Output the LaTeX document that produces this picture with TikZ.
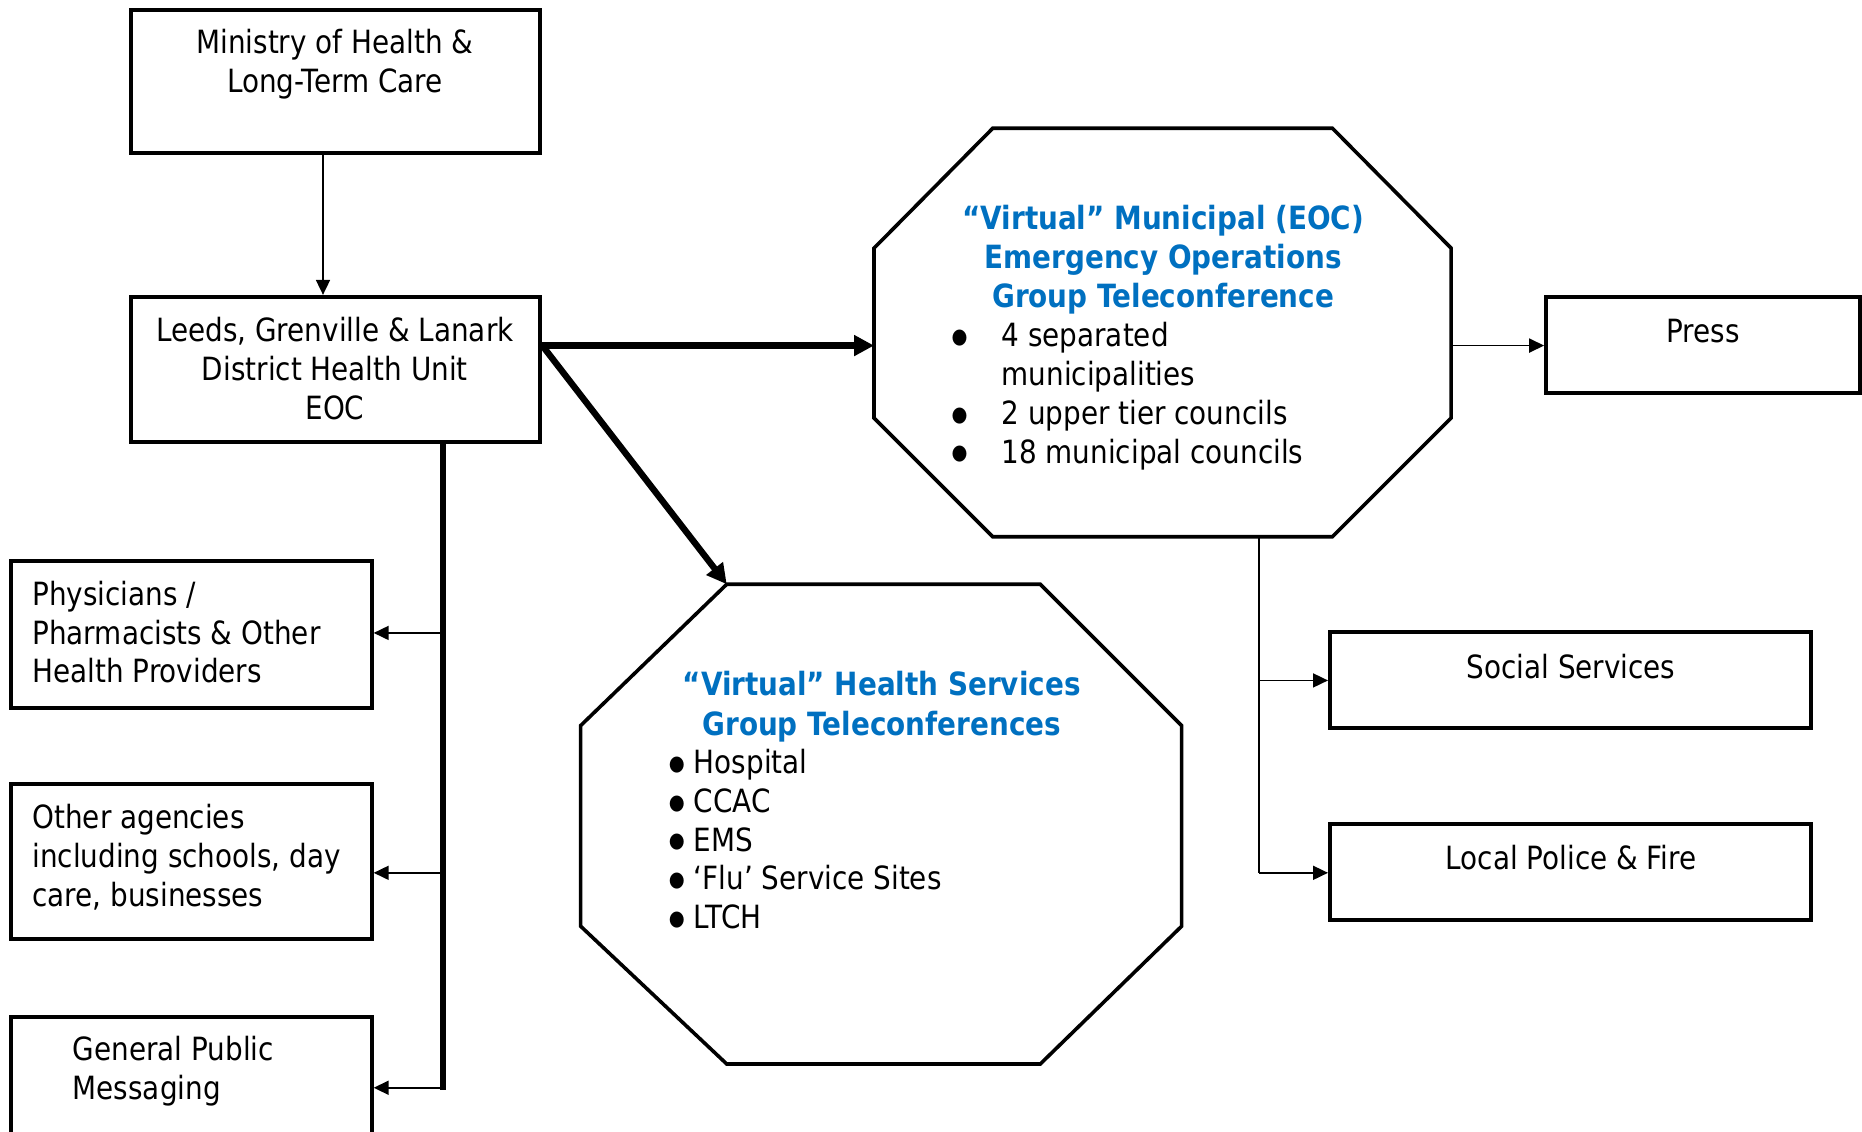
\documentclass[tikz,border=0pt]{standalone}
\usepackage{fontspec}
\setmainfont{DejaVu Sans}[FakeStretch=0.87]
\usetikzlibrary{arrows.meta,fit}
\definecolor{titleblue}{RGB}{0,112,192}
\newcommand{\bigdot}{\raisebox{1.6pt}{\fontsize{10.5}{0}\selectfont ●}}
\begin{document}
\begin{tikzpicture}[x=0.59375pt,y=-0.59375pt,
  box/.style={draw, line width=2pt, inner sep=0pt},
  oct/.style={draw, line width=1.8pt, line join=miter},
  txt/.style={font=\fontsize{16}{19.4}\selectfont, inner sep=0pt},
  ttl/.style={font=\fontsize{16}{19.6}\selectfont\bfseries, text=titleblue, inner sep=0pt, align=center},
  lite/.style={line width=0.9pt, -{Triangle[length=7.5pt,width=7pt]}},
  heavy/.style={line width=3.2pt, -{Triangle[length=10pt,width=10pt]}}]
\useasboundingbox (0,0) rectangle (1568,953);
\clip (0,0) rectangle (1568,953);
% boxes
\node[box, fit={(110,8) (455,129)}] (min) {};
\node[box, fit={(110,250) (455,372)}] (lgl) {};
\node[box, fit={(9,472) (313,596)}] (phys) {};
\node[box, fit={(9,660) (313,791)}] (agen) {};
\node[box, fit={(9,856) (313,990)}] (pub) {};
\node[box, fit={(1302,250) (1566,331)}] (press) {};
\node[box, fit={(1120,532) (1525,613)}] (soc) {};
\node[box, fit={(1120,694) (1525,775)}] (pol) {};
% box texts (anchor base = baseline of the last line)
\node[txt, align=center, anchor=base] (minT) at (282,78) {Ministry of Health \&\\Long-Term Care};
\node[txt, align=center, anchor=base] (lglT) at (282,353) {Leeds, Grenville \& Lanark\\District Health Unit\\EOC};
\node[txt, align=left, anchor=base west] (physT) at (27,575) {Physicians /\\Pharmacists \& Other\\Health Providers};
\node[txt, align=left, anchor=base west] (agenT) at (27,763) {Other agencies\\including schools, day\\care, businesses};
\node[txt, align=left, anchor=base west] (pubT) at (61,926) {General Public\\Messaging};
\node[txt, anchor=base] (pressT) at (1434,288) {Press};
\node[txt, anchor=base] (socT) at (1323,571) {Social Services};
\node[txt, anchor=base] (polT) at (1323,732) {Local Police \& Fire};
% municipal octagon
\coordinate (A1) at (836,108);
\coordinate (A2) at (1122,108);
\coordinate (A3) at (1222,209);
\coordinate (A4) at (1222,352);
\coordinate (A5) at (1122,452);
\coordinate (A6) at (836,452);
\coordinate (A7) at (736,352);
\coordinate (A8) at (736,209);
\draw[oct] (A1)--(A2)--(A3)--(A4)--(A5)--(A6)--(A7)--(A8)--cycle;
\coordinate (Aw) at (736,291);
\coordinate (Ae) at (1222,291);
\coordinate (As) at (1060,452);
\node[ttl, anchor=base] (AT) at (979.5,259) {“Virtual” Municipal (EOC)\\Emergency Operations\\Group Teleconference};
\node[txt, align=left, anchor=base west] (AL) at (801,390) {\makebox[25pt][l]{\bigdot}4 separated\\\hspace*{25pt}municipalities\\\makebox[25pt][l]{\bigdot}2 upper tier councils\\\makebox[25pt][l]{\bigdot}18 municipal councils};
% health octagon
\coordinate (B1) at (612,492);
\coordinate (B2) at (876,492);
\coordinate (B3) at (995,611);
\coordinate (B4) at (995,780);
\coordinate (B5) at (876,896);
\coordinate (B6) at (612,896);
\coordinate (B7) at (489,780);
\coordinate (B8) at (489,611);
\draw[oct] (B1)--(B2)--(B3)--(B4)--(B5)--(B6)--(B7)--(B8)--cycle;
\node[ttl, anchor=base] (BT) at (742.5,619) {“Virtual” Health Services\\Group Teleconferences};
\node[txt, align=left, anchor=base west] (BL) at (563,782) {\makebox[12.5pt][l]{\bigdot}Hospital\\\makebox[12.5pt][l]{\bigdot}CCAC\\\makebox[12.5pt][l]{\bigdot}EMS\\\makebox[12.5pt][l]{\bigdot}‘Flu’ Service Sites\\\makebox[12.5pt][l]{\bigdot}LTCH};
% connectors
\draw[lite] (272,0 |- min.south) -- (272,0 |- lgl.north);
\draw[heavy] (lgl.east |- Aw) -- (Aw);
\draw[heavy] (lgl.east |- Aw) -- (B1);
\draw[line width=3.2pt] (373,0 |- lgl.south) -- (373,917.5);
\draw[lite] (373,533) -- (phys.east |- 373,533);
\draw[lite] (373,735) -- (agen.east |- 373,735);
\draw[lite] (373,916) -- (pub.east |- 373,916);
\draw[lite] (Ae) -- (press.west |- Ae);
\draw[line width=0.9pt] (As) -- (1060,735);
\draw[lite] (1060,573) -- (soc.west |- 1060,573);
\draw[lite] (1060,735) -- (pol.west |- 1060,735);
\end{tikzpicture}
\end{document}
